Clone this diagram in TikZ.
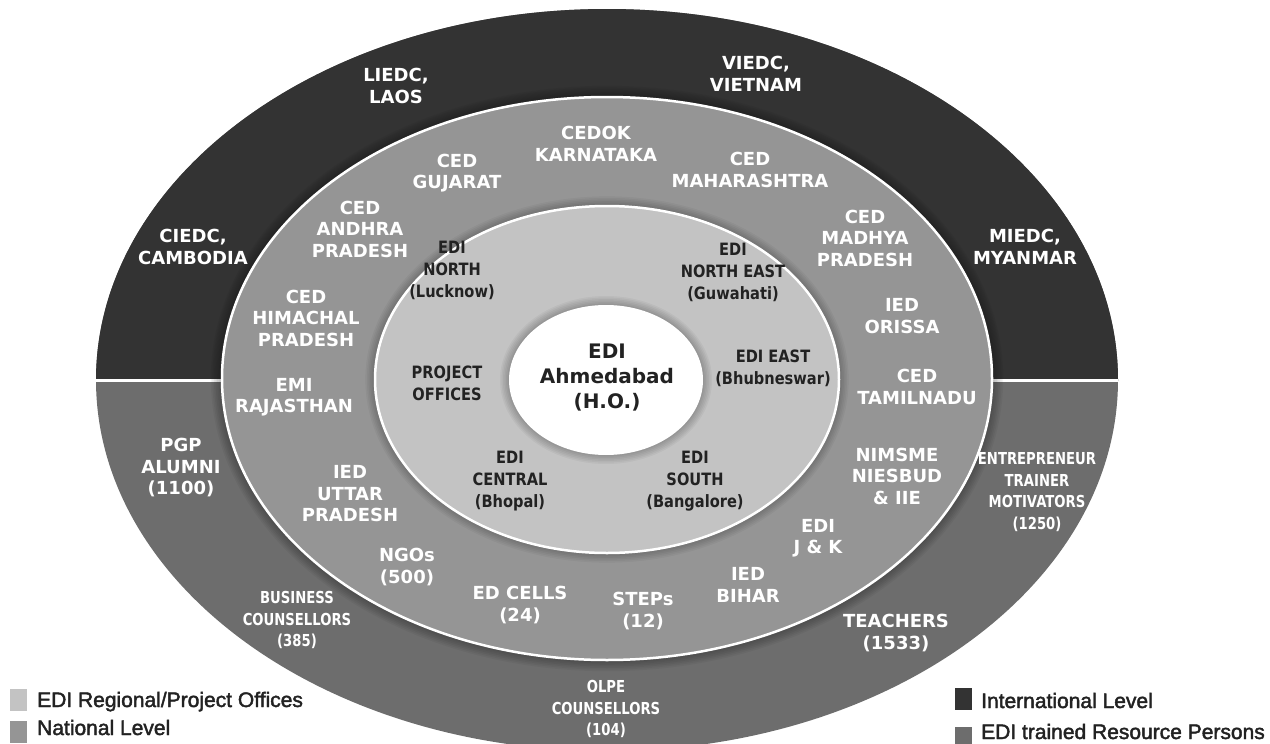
\documentclass[tikz,border=0pt]{standalone}
\usepackage{fontspec}
\setmainfont{DejaVu Sans}
\newfontfamily\cfont{DejaVu Sans}[FakeStretch=0.8]
\newfontfamily\ifont{DejaVu Sans}[FakeStretch=0.86]
\newfontfamily\lfont{Liberation Sans}[FakeBold=2]
\definecolor{cDark}{HTML}{333333}
\definecolor{cRes}{HTML}{6D6D6D}
\definecolor{cNat}{HTML}{959595}
\definecolor{cReg}{HTML}{C3C3C3}
\definecolor{cText}{HTML}{222222}
\tikzset{
  ml/.style={text=white, align=center, font=\bfseries\fontsize{18}{21.5}\selectfont, inner sep=0pt},
  cl/.style={text=white, align=center, font=\cfont\bfseries\fontsize{16.5}{21.5}\selectfont, inner sep=0pt},
  il/.style={text=cText, align=center, font=\ifont\bfseries\fontsize{17}{22}\selectfont, inner sep=0pt},
  hl/.style={text=cText, align=center, font=\bfseries\fontsize{20}{25}\selectfont, inner sep=0pt},
  legbox/.style={minimum width=17pt, minimum height=22pt, inner sep=0pt, anchor=north west},
  legtext/.style={anchor=base west, font=\lfont\fontsize{21}{24}\selectfont, text=cText, inner sep=0pt},
}
\begin{document}
\begin{tikzpicture}[x=1pt,y=-1pt]
\useasboundingbox (0,0) rectangle (1270,744);
\begin{scope}
\clip (0,0) rectangle (1270,744);
% outer ellipse: resource persons (bottom) and international (top)
\fill[cRes] (607,380) ellipse [x radius=511pt, y radius=371pt];
\begin{scope}
  \clip (0,0) rectangle (1270,380);
  \fill[cDark] (607,380) ellipse [x radius=511pt, y radius=371pt];
\end{scope}
\begin{scope}
  \clip (607,380) ellipse [x radius=511pt, y radius=371pt];
  \fill[white] (0,378.5) rectangle (1270,381.5);
\end{scope}
% halo of national ring
\foreach \k in {1,...,7}
  \fill[black, opacity=0.045] (607,378.5) ellipse [x radius={385pt+\k*1.6pt}, y radius={281.5pt+\k*1.6pt}];
\fill[cNat, draw=white, line width=2.5pt] (607,378.5) ellipse [x radius=385pt, y radius=281.5pt];
% halo of regional ellipse
\foreach \k in {1,...,6}
  \fill[black, opacity=0.04] (607,379.5) ellipse [x radius={232pt+\k*1.6pt}, y radius={173.5pt+\k*1.6pt}];
\fill[cReg, draw=white, line width=2.5pt] (607,379.5) ellipse [x radius=232pt, y radius=173.5pt];
% halo of head office
\foreach \k in {1,...,6}
  \fill[black, opacity=0.04] (606,380) ellipse [x radius={97pt+\k*1.5pt}, y radius={75pt+\k*1.5pt}];
\fill[white] (606,380) ellipse [x radius=97pt, y radius=75pt];
\end{scope}

% international level
\node[ml] (laos) at (396,86) {LIEDC,\\LAOS};
\node[ml] (vietnam) at (756,74) {VIEDC,\\VIETNAM};
\node[ml] (cambodia) at (193,247) {CIEDC,\\CAMBODIA};
\node[ml] (myanmar) at (1025,247) {MIEDC,\\MYANMAR};

% national level
\node[ml] (gujarat) at (457,173) {CED\\GUJARAT};
\node[ml] (karnataka) at (596,144) {CEDOK\\KARNATAKA};
\node[ml] (maharashtra) at (750,170) {CED\\MAHARASHTRA};
\node[ml] (andhra) at (360,229) {CED\\ANDHRA\\PRADESH};
\node[ml] (madhya) at (865,238) {CED\\MADHYA\\PRADESH};
\node[ml] (himachal) at (306,318) {CED\\HIMACHAL\\PRADESH};
\node[ml] (orissa) at (902,316) {IED\\ORISSA};
\node[ml] (rajasthan) at (294,397) {EMI\\RAJASTHAN};
\node[ml] (tamilnadu) at (917,387) {CED\\TAMILNADU};
\node[ml] (uttar) at (350,494) {IED\\UTTAR\\PRADESH};
\node[ml] (nimsme) at (897,476) {NIMSME\\NIESBUD\\\& IIE};
\node[ml] (ngos) at (407,567) {NGOs\\(500)};
\node[ml] (jk) at (818,538) {EDI\\J \& K};
\node[ml] (edcells) at (520,605) {ED CELLS\\(24)};
\node[ml] (steps) at (643,611) {STEPs\\(12)};
\node[ml] (bihar) at (748,585) {IED\\BIHAR};

% resource persons
\node[ml] (pgp) at (181,468) {PGP\\ALUMNI\\(1100)};
\node[cl] (etm) at (1037,492) {ENTREPRENEUR\\TRAINER\\MOTIVATORS\\(1250)};
\node[cl] (business) at (297,620) {BUSINESS\\COUNSELLORS\\(385)};
\node[ml] (teachers) at (896,633) {TEACHERS\\(1533)};
\node[cl] (olpe) at (606,709) {OLPE\\COUNSELLORS\\(104)};

% regional / project offices
\node[il] (north) at (452,270) {EDI\\NORTH\\(Lucknow)};
\node[il] (northeast) at (733,272) {EDI\\NORTH EAST\\(Guwahati)};
\node[il] (project) at (447,383) {PROJECT\\OFFICES};
\node[il] (east) at (773,368) {EDI EAST\\(Bhubneswar)};
\node[il] (central) at (510,481) {EDI\\CENTRAL\\(Bhopal)};
\node[il] (south) at (695,481) {EDI\\SOUTH\\(Bangalore)};
\node[hl] (ho) at (607,378) {EDI\\Ahmedabad\\(H.O.)};

% legend
\node[legbox, fill=cReg] (k1) at (10,689) {};
\node[legtext] (t1) at (37,707) {EDI Regional/Project Offices};
\node[legbox, fill=cNat] (k2) at (10,721) {};
\node[legtext] (t2) at (37,735) {National Level};
\node[legbox, fill=cDark] (k3) at (955,688) {};
\node[legtext] (t3) at (981,708) {International Level};
\node[legbox, fill=cRes] (k4) at (955,727) {};
\node[legtext] (t4) at (981,739) {EDI trained Resource Persons};
\end{tikzpicture}
\end{document}
